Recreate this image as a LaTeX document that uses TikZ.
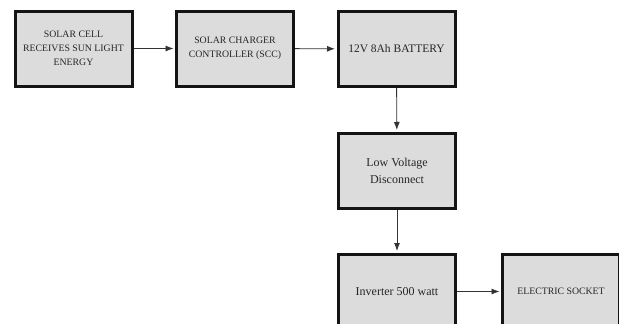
\documentclass[tikz,border=0pt]{standalone}
\usepackage{fontspec}
\setmainfont{Liberation Serif}
\usetikzlibrary{arrows.meta}
\definecolor{boxfill}{HTML}{DCDCDC}
\definecolor{boxline}{HTML}{141414}
\definecolor{linkc}{HTML}{333333}
\tikzset{
  blockbox/.style={draw=boxline, line width=3pt, fill=boxfill, minimum width=117pt, minimum height=75pt, inner sep=2pt, align=center, text=black!85},
  smallcaps/.style={font=\fontsize{9.8}{14}\selectfont},
  bigtext/.style={font=\fontsize{12}{17}\selectfont},
  link/.style={draw=linkc, line width=0.9pt, -{Latex[length=8pt,width=6pt]}, shorten >=1.5pt}
}
\begin{document}
\begin{tikzpicture}[x=1pt,y=-1pt]
\useasboundingbox (0,0) rectangle (619,324);
\clip (0,0) rectangle (619,324);
\fill[white] (0,0) rectangle (619,324);
\node[blockbox, smallcaps] (cell) at (73.5,48.5) {SOLAR CELL\\RECEIVES SUN LIGHT\\ENERGY};
\node[blockbox, smallcaps] (scc) at (235,48.5) {SOLAR CHARGER\\CONTROLLER (SCC)};
\node[blockbox, font=\fontsize{11.5}{14}\selectfont] (bat) at (396.5,49) {12V 8Ah BATTERY};
\node[blockbox, bigtext] (lvd) at (397,170.5) {Low Voltage\\Disconnect};
\node[blockbox, bigtext] (inv) at (397,291.5) {Inverter 500 watt};
\node[blockbox, smallcaps] (sock) at (561,291.5) {ELECTRIC SOCKET};
\draw[link] (cell) -- (scc);
\draw[link] (scc) -- (bat);
\draw[link] (bat) -- (lvd);
\draw[link] (lvd) -- (inv);
\draw[link] (inv) -- (sock);
\end{tikzpicture}
\end{document}
